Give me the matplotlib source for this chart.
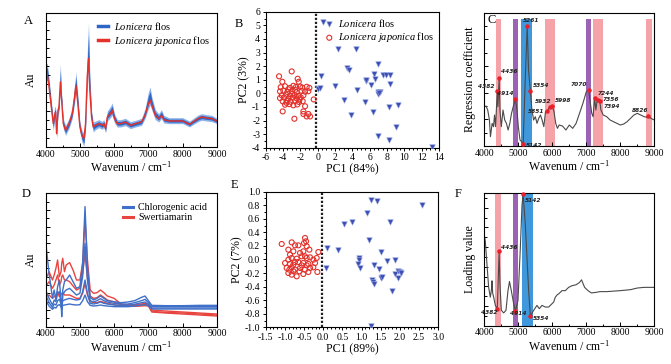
import matplotlib
matplotlib.use("Agg")
import matplotlib.pyplot as plt
from matplotlib.ticker import MultipleLocator, AutoMinorLocator, FormatStrFormatter, NullFormatter

plt.rcParams['font.family'] = ['Liberation Serif', 'DejaVu Serif']
plt.rcParams['mathtext.fontset'] = 'custom'
plt.rcParams['mathtext.rm'] = 'Liberation Serif'
plt.rcParams['mathtext.it'] = 'Liberation Serif:italic'
plt.rcParams['mathtext.bf'] = 'Liberation Serif:bold'
plt.rcParams['axes.unicode_minus'] = False

# ---------------- Panel A data (arbitrary absorbance units) ----------------
a_wn = [4000, 4050, 4100, 4165, 4223, 4262, 4290, 4320, 4360, 4390, 4430, 4460, 4515, 4580, 4680,
        4777, 4845, 4883, 4940, 5000, 5058, 5117, 5165, 5214, 5252, 5290, 5340, 5388, 5456, 5553,
        5650, 5700, 5750, 5800, 5893, 5942, 6010, 6090, 6185, 6330, 6476, 6620, 6800, 6900, 7000,
        7050, 7100, 7200, 7300, 7380, 7450, 7600, 7800, 8000, 8200, 8300, 8450, 8550, 8700, 8850, 9000]
a_red = [210, 215, 180, 120, 70, 95, 105, 40, 110, 120, 195, 150, 70, 50, 70,
         100, 150, 185, 130, 60, 35, 25, 70, 210, 265, 170, 90, 60, 65, 70,
         65, 70, 55, 90, 100, 110, 85, 70, 70, 75, 65, 70, 75, 95, 130,
         140, 125, 95, 85, 95, 82, 78, 78, 78, 68, 75, 85, 90, 87, 85, 78]
a_blue_hi = [250, 250, 205, 140, 85, 120, 120, 55, 125, 140, 250, 170, 85, 65, 85,
             120, 185, 225, 155, 75, 50, 40, 90, 280, 372, 215, 110, 75, 78, 82,
             77, 82, 68, 108, 122, 132, 100, 82, 82, 86, 76, 80, 86, 115, 165,
             180, 150, 112, 100, 112, 95, 88, 88, 88, 78, 85, 96, 100, 97, 95, 86]
a_blue_lo = [195, 200, 160, 100, 50, 80, 90, 25, 95, 105, 175, 130, 55, 35, 55,
             85, 130, 165, 110, 45, 15, 2, 50, 180, 230, 145, 75, 45, 52, 58,
             53, 58, 42, 78, 88, 95, 72, 60, 60, 64, 55, 60, 65, 85, 115,
             125, 110, 82, 75, 85, 72, 70, 70, 70, 60, 67, 76, 80, 78, 76, 70]

# ---------------- Panel B data (PCA scores) ----------------
b_lf_x = [0.58, 2.38, 4.42, 0.39, 0.04, 0.30, 2.04, 3.38, 3.60, 4.50, 3.08, 3.85, 5.54, 5.60, 6.10,
          6.46, 6.62, 7.00, 5.46, 6.42, 7.00, 7.20, 7.00, 7.10, 7.58, 7.88, 8.30, 8.30, 8.23, 9.31,
          9.04, 7.00, 8.23, 13.15]
b_lf_y = [5.22, 3.25, 3.23, 1.29, 0.31, 0.36, 0.51, 1.86, 1.71, 0.24, -0.50, -1.57, 0.90, 1.00, 0.63,
          1.44, 1.05, 2.15, -0.62, -1.40, 0.13, 0.13, -0.05, 0.05, 1.37, 1.37, 1.37, 0.70, -1.00, -0.89,
          -2.48, -3.17, -3.46, -3.98]
b_lj_x = [-4.46, -3.00, -2.31, -2.19, -4.08,
          -4.27, -3.77, -3.19, -2.81, -2.50, -2.04, -1.77, -1.27, -0.96,
          -4.35, -3.96, -3.50, -3.00, -2.42, -1.85, -1.46, -1.08,
          -4.15, -3.65, -3.19, -2.69, -2.23, -1.65,
          -4.35, -3.88, -3.38, -2.88, -2.42, -1.96, -0.46,
          -4.04, -3.58, -3.12, -2.62, -2.15, -1.73,
          -3.77, -3.27, -2.81, -2.35, -1.46,
          -4.04, -1.65, -1.65, -1.08, -1.27, -0.88, -2.69,
          -3.40, -2.95, -2.60, -3.60, -2.10]
b_lj_y = [1.25, 1.61, 1.07, 0.85, 0.85,
          0.45, 0.52, 0.40, 0.55, 0.47, 0.50, 0.42, 0.48, 0.40,
          0.14, 0.20, 0.10, 0.16, 0.08, 0.18, 0.12, 0.15,
          -0.15, -0.10, -0.20, -0.12, -0.18, -0.14,
          -0.35, -0.30, -0.40, -0.32, -0.38, -0.30, -0.45,
          -0.59, -0.55, -0.62, -0.56, -0.64, -0.58,
          -0.84, -0.80, -0.88, -0.82, -0.95,
          -1.33, -1.33, -1.52, -1.52, -1.70, -1.70, -1.87,
          0.30, -0.05, 0.25, -0.70, -0.45]

# ---------------- Panel C data (regression coefficient, arbitrary units) ----------------
c_wn = [4000, 4050, 4100, 4150, 4180, 4230, 4270, 4300, 4330, 4382, 4400, 4436, 4460, 4500, 4550,
        4600, 4650, 4700, 4750, 4800, 4850, 4914, 4960, 5000, 5050, 5100, 5142, 5200, 5261, 5300,
        5354, 5400, 5450, 5500, 5550, 5600, 5650, 5700, 5750, 5800, 5851, 5900, 5932, 5998, 6050,
        6100, 6150, 6200, 6300, 6400, 6500, 6600, 6700, 6800, 6900, 7000, 7070, 7120, 7160, 7200,
        7244, 7280, 7320, 7356, 7394, 7430, 7500, 7600, 7700, 7800, 7900, 8000, 8100, 8200, 8300,
        8400, 8500, 8600, 8700, 8800, 8826, 8900, 9000]
c_val = [118, 120, 108, 78, 28, 68, 58, 93, 58, 166, 118, 204, 108, 58, 108,
         78, 68, 48, 68, 98, 118, 141, 108, 58, 18, 13, 5, 188, 360, 230,
         166, 108, 78, 88, 68, 83, 93, 78, 58, 103, 106, 113, 118, 120, 103,
         68, 53, 63, 60, 48, 63, 53, 68, 98, 128, 163, 168, 128, 98, 88,
         145, 108, 138, 138, 135, 108, 93, 88, 78, 73, 68, 63, 66, 73, 83,
         93, 98, 93, 88, 86, 91, 83, 78]
c_marks = [4382, 4436, 4914, 5142, 5261, 5354, 5851, 5932, 5998, 7070, 7244, 7356, 7394, 8826]
c_mark_val = [166, 204, 141, 5, 360, 166, 106, 118, 120, 168, 145, 138, 135, 91]
c_mark_lbl = ['4382', '4436', '4914', '5142', '5261', '5354', '5851', '5932', '5998',
              '7070', '7244', '7356', '7394', '8826']
c_pink = [(4330, 4495), (5775, 6070), (7210, 7505), (8755, 8920)]
c_purple = [(4835, 4990), (6980, 7130)]
c_blue = [(5075, 5415)]

# ---------------- Panel D data (reference compounds, arbitrary units) ----------------
d_wn = [4000, 4100, 4200, 4250, 4300, 4350, 4400, 4450, 4470, 4500, 4550, 4600, 4700, 4800, 4900,
        5000, 5080, 5150, 5220, 5300, 5400, 5500, 5600, 5700, 5800, 6000, 6200, 6400, 6600, 6800,
        6900, 7000, 7100, 7500, 8000, 8500, 9000]
d_cga_1 = [255, 160, 85, 110, 80, 120, 140, 80, 30, 110, 135, 140, 155, 135, 115,
           120, 190, 360, 180, 88, 80, 85, 92, 85, 78, 75, 72, 74, 78, 88,
           92, 78, 64, 63, 63, 64, 64]
d_cga_2 = [110, 85, 65, 80, 75, 100, 105, 70, 50, 95, 105, 110, 115, 105, 95,
           100, 150, 250, 140, 78, 74, 78, 84, 78, 74, 70, 68, 68, 72, 78,
           82, 72, 60, 60, 60, 60, 60]
d_cga_3 = [95, 72, 58, 68, 65, 78, 82, 68, 60, 78, 80, 82, 85, 82, 80,
           82, 105, 140, 100, 70, 68, 70, 74, 70, 68, 65, 64, 64, 67, 72,
           74, 66, 56, 56, 56, 56, 56]
d_cga_4 = [80, 62, 52, 58, 56, 64, 66, 60, 56, 64, 65, 66, 68, 66, 65,
           66, 78, 95, 75, 64, 62, 63, 65, 63, 62, 60, 60, 60, 62, 65,
           66, 62, 53, 53, 53, 53, 53]
d_swe_1 = [140, 165, 140, 155, 175, 200, 150, 165, 190, 205, 165, 185, 192, 170, 140,
           140, 190, 322, 200, 110, 100, 102, 110, 102, 92, 85, 68, 65, 66, 68,
           70, 68, 50, 47, 44, 41, 38]
d_swe_2 = [120, 135, 115, 125, 140, 155, 125, 135, 150, 155, 140, 140, 135, 122, 110,
           115, 160, 220, 145, 92, 85, 87, 95, 88, 80, 74, 66, 64, 64, 66,
           67, 65, 46, 43, 41, 38, 35]
d_swe_3 = [90, 95, 85, 90, 95, 105, 90, 95, 100, 102, 95, 95, 95, 90, 85,
           85, 100, 130, 95, 75, 72, 72, 76, 73, 70, 66, 62, 61, 61, 62,
           63, 62, 44, 41, 38, 35, 32]

# ---------------- Panel E data (PCA scores) ----------------
e_lf_x = [1.245, 1.41, 2.58, 1.13, 1.74, 0.74, 0.55, 1.20, 1.50, 0.107, 0.376, 0.92, 0.94, 0.90, 0.96,
          1.33, 1.45, 1.653, 1.88, 0.072, 1.26, 1.31, 1.33, 1.50, 1.53, 1.87, 1.94, 2.00, 2.04, 1.95,
          1.78, 1.25]
e_lf_y = [0.872, 0.857, 0.80, 0.685, 0.553, 0.548, 0.523, 0.292, 0.115, 0.174, 0.145, 0.022, -0.002, -0.066, -0.125,
          -0.076, -0.135, -0.027, -0.012, -0.125, -0.297, -0.337, -0.356, -0.273, -0.263, -0.209, -0.175, -0.184, -0.199, -0.273,
          -0.469, -0.975]
e_lj_x = [-1.083, -0.823, -0.91, -0.736, -0.649, -0.475, -0.449, -0.50, -0.432, -0.362, -0.779, -0.866, -0.605,
          -0.519, -0.91, -0.823, -0.692, -0.562, -0.432, -0.345, -0.258, -0.128, -0.171, -0.996, -0.866,
          -0.779, -0.649, -0.519, -0.388, -0.214, -0.953, -0.823, -0.736, -0.605, -0.475, -0.345, -0.154,
          -0.91, -0.779, -0.692, -0.519, -0.388, -0.823, -0.562, -0.736, -0.432, -0.623, -0.884, -0.258, -0.475]
e_lj_y = [0.229, 0.253, 0.145, 0.209, 0.209, 0.317, 0.268, 0.243, 0.194, 0.145, 0.12, 0.071, 0.096,
          0.12, -0.003, 0.022, 0.012, 0.047, 0.022, 0.032, -0.003, 0.11, 0.022, -0.052, -0.066,
          -0.076, -0.037, -0.052, -0.066, -0.052, -0.125, -0.115, -0.15, -0.125, -0.15, -0.125, -0.184,
          -0.199, -0.174, -0.248, -0.214, -0.184, -0.224, -0.086, -0.037, -0.086, -0.174, -0.15, -0.115, 0.047]

# ---------------- Panel F data (loading, arbitrary units) ----------------
f_wn = [4000, 4029, 4078, 4127, 4176, 4210, 4225, 4245, 4275, 4324, 4382, 4436, 4460, 4500, 4569,
        4637, 4696, 4740, 4794, 4863, 4914, 4990, 5059, 5108, 5142, 5206, 5304, 5354, 5451, 5549,
        5618, 5696, 5794, 5892, 5990, 6039, 6088, 6150, 6186, 6284, 6382, 6480, 6578, 6700, 6800,
        6860, 6950, 7050, 7150, 7300, 7400, 7600, 8000, 8300, 8500, 8700, 9000]
f_val = [277, 257, 187, 117, 87, 110, 137, 100, 87, 62, 52, 227, 127, 47, 39,
         47, 107, 135, 107, 67, 45, 77, 237, 367, 402, 307, 107, 29, 47, 62,
         52, 62, 57, 57, 67, 72, 87, 95, 97, 107, 107, 117, 122, 125, 132,
         140, 117, 107, 100, 102, 104, 104, 107, 110, 115, 117, 117]
f_marks = [4382, 4436, 4914, 5142, 5354]
f_mark_val = [52, 227, 45, 402, 29]
f_mark_lbl = ['4382', '4436', '4914', '5142', '5354']
f_pink = [(4320, 4485)]
f_purple = [(4835, 4990)]
f_blue = [(5095, 5445)]

# ---------------- styling ----------------
BLUE = '#2f66c6'
LBLUE = '#8db3ea'
RED = '#e3312b'
PINK = '#f5a3a9'
PURPLE = '#9c62b6'
SBLUE = '#3f98dc'
MBLUE = '#3b4fb4'
TICK_FS = 7
LAB_FS = 8.5
wn_label = r'Wavenum / cm$^{\mathregular{-1}}$'

fig = plt.figure(figsize=(6.71, 3.64), dpi=100)

def spec_axes(rect):
    ax = fig.add_axes(rect)
    ax.set_xlim(4000, 9000)
    ax.xaxis.set_major_locator(MultipleLocator(1000))
    ax.xaxis.set_minor_locator(MultipleLocator(500))
    ax.tick_params(direction='in', which='both', labelsize=TICK_FS, length=3, width=0.7, pad=2)
    ax.tick_params(which='minor', length=1.8)
    ax.yaxis.set_major_formatter(NullFormatter())
    ax.set_xlabel(wn_label, fontsize=LAB_FS, labelpad=1)
    for s in ax.spines.values():
        s.set_linewidth(0.8)
    return ax

def score_axes(rect):
    ax = fig.add_axes(rect)
    ax.tick_params(direction='out', which='both', labelsize=TICK_FS, length=2.5, width=0.7, pad=1.5)
    ax.tick_params(which='minor', length=1.5)
    for s in ax.spines.values():
        s.set_linewidth(0.8)
    return ax

# ---------- A ----------
axA = spec_axes([0.068, 0.596, 0.2553, 0.369])
axA.set_ylim(0, 402)
axA.yaxis.set_major_locator(MultipleLocator(54))
axA.yaxis.set_minor_locator(MultipleLocator(27))
axA.fill_between(a_wn, a_blue_lo, a_blue_hi, color=LBLUE, lw=0)
axA.fill_between(a_wn, [0.75 * l + 0.25 * h for l, h in zip(a_blue_lo, a_blue_hi)],
                 [0.25 * l + 0.75 * h for l, h in zip(a_blue_lo, a_blue_hi)], color=BLUE, lw=0)
axA.plot(a_wn, a_red, color=RED, lw=1.0)
axA.plot([], [], color=BLUE, lw=2.5, label=r'$\mathit{Lonicera}$ flos')
axA.plot([], [], color=RED, lw=2.5, label=r'$\mathit{Lonicera\ japonica}$ flos')
axA.legend(loc='upper right', frameon=False, fontsize=7.5, handlelength=1.0, handletextpad=0.5,
           borderaxespad=0.3, labelspacing=0.15)
axA.set_ylabel('Au', fontsize=LAB_FS, labelpad=4)
fig.text(0.036, 0.935, 'A', fontsize=9)

# ---------- B ----------
axB = score_axes([0.396, 0.5942, 0.2582, 0.3736])
axB.set_xlim(-6, 14)
axB.set_ylim(-4, 6)
axB.xaxis.set_major_locator(MultipleLocator(2))
axB.xaxis.set_minor_locator(MultipleLocator(0.5))
axB.yaxis.set_major_locator(MultipleLocator(1))
axB.yaxis.set_minor_locator(MultipleLocator(0.5))
axB.axvline(-0.22, color='#222222', lw=1.6, ls=(0, (1, 0.8)))
axB.scatter(b_lf_x, b_lf_y, marker='v', s=16, color=MBLUE, edgecolors='#9aa7e0', linewidths=0.4,
            label=r'$\mathit{Lonicera}$ flos', zorder=3)
axB.scatter(b_lj_x, b_lj_y, marker='o', s=13, facecolors='none', edgecolors=RED, linewidths=0.8,
            label=r'$\mathit{Lonicera\ japonica}$ flos', zorder=3)
axB.legend(loc='upper right', frameon=False, fontsize=7.5, handlelength=1.0, handletextpad=0.3,
           borderaxespad=0.2, labelspacing=0.15, borderpad=0.3)
axB.set_xlabel('PC1 (84%)', fontsize=LAB_FS, labelpad=1)
axB.set_ylabel('PC2 (3%)', fontsize=LAB_FS, labelpad=1)
fig.text(0.349, 0.927, 'B', fontsize=9)

# ---------- C ----------
axC = spec_axes([0.7218, 0.5989, 0.2533, 0.366])
axC.set_ylim(0, 400)
axC.yaxis.set_major_locator(MultipleLocator(80))
axC.yaxis.set_minor_locator(MultipleLocator(40))
for spans, col in ((c_pink, PINK), (c_purple, PURPLE), (c_blue, SBLUE)):
    for lo, hi in spans:
        axC.axvspan(lo, hi, ymin=0, ymax=0.95, color=col, lw=0, zorder=1)
axC.plot(c_wn, c_val, color='#4a4a4a', lw=0.8, zorder=2)
axC.scatter(c_marks, c_mark_val, s=5, color='#e8202a', zorder=3)
c_offsets = [(-14, 2), (1, 4), (-13, 3), (2, -2), (-3, 3), (2, 3), (-14, -2), (-11, 3), (2, 3),
             (-13, 3), (2, 2), (3, -1), (3, -5), (-12, 3)]
for w, v, t, (dx, dy) in zip(c_marks, c_mark_val, c_mark_lbl, c_offsets):
    axC.annotate(t, (w, v), xytext=(dx, dy), textcoords='offset points', fontsize=4.2,
                 family='DejaVu Sans', fontweight='bold', style='italic', color='#222222', zorder=4)
axC.set_ylabel('Regression coefficient', fontsize=LAB_FS, labelpad=4)
fig.text(0.727, 0.938, 'C', fontsize=9)

# ---------- D ----------
axD = spec_axes([0.068, 0.1025, 0.2553, 0.3665])
axD.set_ylim(0, 400)
axD.yaxis.set_major_locator(MultipleLocator(50))
axD.yaxis.set_minor_locator(MultipleLocator(25))
for vals in (d_swe_3, d_swe_2, d_swe_1):
    axD.plot(d_wn, vals, color='#e8453f', lw=1.0)
for vals in (d_cga_4, d_cga_3, d_cga_2, d_cga_1):
    axD.plot(d_wn, vals, color='#3f6fc8', lw=1.0)
axD.plot([], [], color='#3f6fc8', lw=2.2, label='Chlorogenic acid')
axD.plot([], [], color='#e8453f', lw=2.2, label='Swertiamarin')
axD.legend(loc='upper right', frameon=False, fontsize=7.2, handlelength=1.0, handletextpad=0.5,
           borderaxespad=0.6, labelspacing=0.1)
axD.set_ylabel('Au', fontsize=LAB_FS, labelpad=4)
fig.text(0.033, 0.459, 'D', fontsize=9)

# ---------- E ----------
axE = score_axes([0.396, 0.1008, 0.2572, 0.3726])
axE.set_xlim(-1.5, 3.0)
axE.set_ylim(-1.0, 1.0)
axE.xaxis.set_major_locator(MultipleLocator(0.5))
axE.xaxis.set_minor_locator(MultipleLocator(0.1))
axE.yaxis.set_major_locator(MultipleLocator(0.2))
axE.yaxis.set_minor_locator(MultipleLocator(0.1))
axE.xaxis.set_major_formatter(FormatStrFormatter('%.1f'))
axE.yaxis.set_major_formatter(FormatStrFormatter('%.1f'))
axE.axvline(-0.04, color='#222222', lw=1.6, ls=(0, (1, 0.8)))
axE.scatter(e_lf_x, e_lf_y, marker='v', s=16, color=MBLUE, edgecolors='#9aa7e0', linewidths=0.4, zorder=3)
axE.scatter(e_lj_x, e_lj_y, marker='o', s=13, facecolors='none', edgecolors=RED, linewidths=0.8, zorder=3)
axE.set_xlabel('PC1 (89%)', fontsize=LAB_FS, labelpad=1)
axE.set_ylabel('PC2 (7%)', fontsize=LAB_FS, labelpad=1)
fig.text(0.344, 0.483, 'E', fontsize=9)

# ---------- F ----------
axF = spec_axes([0.7218, 0.1052, 0.2533, 0.3646])
axF.set_ylim(0, 405)
axF.yaxis.set_major_locator(MultipleLocator(60))
axF.yaxis.set_minor_locator(MultipleLocator(30))
for spans, col in ((f_pink, PINK), (f_purple, PURPLE), (f_blue, SBLUE)):
    for lo, hi in spans:
        axF.axvspan(lo, hi, ymin=0, ymax=1, color=col, lw=0, zorder=1)
axF.plot(f_wn, f_val, color='#4a4a4a', lw=0.8, zorder=2)
axF.scatter(f_marks, f_mark_val, s=5, color='#e8202a', zorder=3, clip_on=False)
f_offsets = [(-12, -4), (1, 2), (-4, -3), (1, -6), (2, -3)]
for w, v, t, (dx, dy) in zip(f_marks, f_mark_val, f_mark_lbl, f_offsets):
    axF.annotate(t, (w, v), xytext=(dx, dy), textcoords='offset points', fontsize=4.2,
                 family='DejaVu Sans', fontweight='bold', style='italic', color='#222222', zorder=4)
axF.set_ylabel('Loading value', fontsize=LAB_FS, labelpad=4)
fig.text(0.678, 0.459, 'F', fontsize=9)

fig.savefig('out.png', dpi=100)
